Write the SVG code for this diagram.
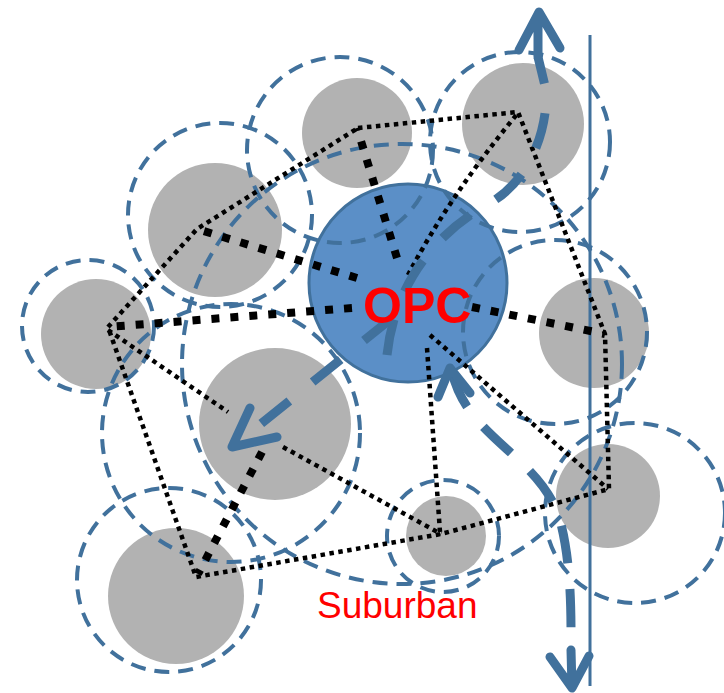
<svg xmlns="http://www.w3.org/2000/svg" width="724" height="693" viewBox="0 0 724 693">
<style>
.node{fill:#b2b2b2}
.opc{fill:#5b8fc7;stroke:#41719c;stroke-width:3}
.cov{fill:none;stroke:#41719c;stroke-width:4;stroke-dasharray:15 9}
.thin{fill:none;stroke:#000;stroke-width:4.5;stroke-dasharray:4.5 4.5;stroke-linejoin:round}
.thick{fill:none;stroke:#000;stroke-width:8;stroke-dasharray:8 11}
.arr{fill:none;stroke:#41719c;stroke-width:9;stroke-dasharray:36 30}
.head{fill:none;stroke:#41719c;stroke-width:9;stroke-linecap:round;stroke-linejoin:round}
.axis{stroke:#41719c;stroke-width:3;fill:none}
text{fill:#ff0000;font-family:"Liberation Sans",Arial,sans-serif}
</style>
<rect width="724" height="693" fill="#fff"/>
<g id="nodes">
<g id="n-top-mid"><circle class="node" cx="357" cy="133" r="55"/></g>
<g id="n-top-right"><circle class="node" cx="523" cy="124" r="61"/></g>
<g id="n-up-left"><circle class="node" cx="215" cy="230" r="67"/></g>
<g id="n-left"><circle class="node" cx="96" cy="334" r="55"/></g>
<g id="n-mid-left"><circle class="node" cx="275" cy="424" r="76"/></g>
<g id="n-bot-left"><circle class="node" cx="176" cy="596" r="68"/></g>
<g id="n-bot-mid"><circle class="node" cx="446" cy="536" r="40"/></g>
<g id="n-right-low"><circle class="node" cx="608" cy="496" r="52"/></g>
<g id="n-right-mid"><circle class="node" cx="594" cy="333" r="55"/></g>
<g id="n-opc"><circle class="opc" cx="408" cy="283" r="99"/></g>
</g>
<g id="coverage">
<circle class="cov" cx="340" cy="150" r="93"/>
<circle class="cov" cx="520" cy="142" r="90"/>
<circle class="cov" cx="220" cy="215" r="92"/>
<circle class="cov" cx="88" cy="326" r="66"/>
<circle class="cov" cx="402" cy="364" r="220"/>
<circle class="cov" cx="231" cy="433" r="129"/>
<circle class="cov" cx="169" cy="580" r="92"/>
<circle class="cov" cx="443" cy="536" r="56"/>
<circle class="cov" cx="635" cy="513" r="90"/>
<circle class="cov" cx="555" cy="332" r="92"/>
</g>
<g id="axis">
<line class="axis" x1="590" y1="35" x2="590" y2="686"/>
</g>
<g id="connectors">
<path class="thin" d="M358,128 L518,112 L605,334 L609,489 L441,534 L196,577 L108,327 L197,229 Z"/>
<path class="thin" d="M108,330 L228,412"/>
<path class="thin" d="M283,447 L441,534"/>
<path class="thin" d="M427,348 L440,532"/>
<path class="thin" d="M430,335 L608,489"/>
<path class="thin" d="M408,275 Q450,195 518,113"/>
<path class="thick" d="M397,258 L357,128"/>
<path class="thick" d="M357,278 L197,229"/>
<path class="thick" d="M352,308 L108,327"/>
<path class="thick" d="M472,307 L605,334"/>
<path class="thick" d="M262,452 L198,574"/>
</g>
<g id="arrows">
<path class="arr" d="M387,355 C395,280 440,230 490,203 C530,180 548,130 546,90 L538,57"/>
<path class="head" d="M538,57 L538,14 M519,50 L539,12 L560,48"/>
<path class="arr" d="M392,318 L236,444"/>
<path class="head" d="M250,408 L232,447 L277,437"/>
<path class="arr" d="M452,372 C468,440 540,455 560,520 C572,565 571,620 571,650" style="stroke-dasharray:38 26"/>
<path class="head" d="M438,397 L450,368 L470,393 M571,650 L572,688 M550,657 L572,688 L589,656"/>
</g>
<g id="labels">
<text x="363" y="323" font-size="50" font-weight="bold">OPC</text>
<text x="317" y="618" font-size="37">Suburban</text>
</g>
</svg>
